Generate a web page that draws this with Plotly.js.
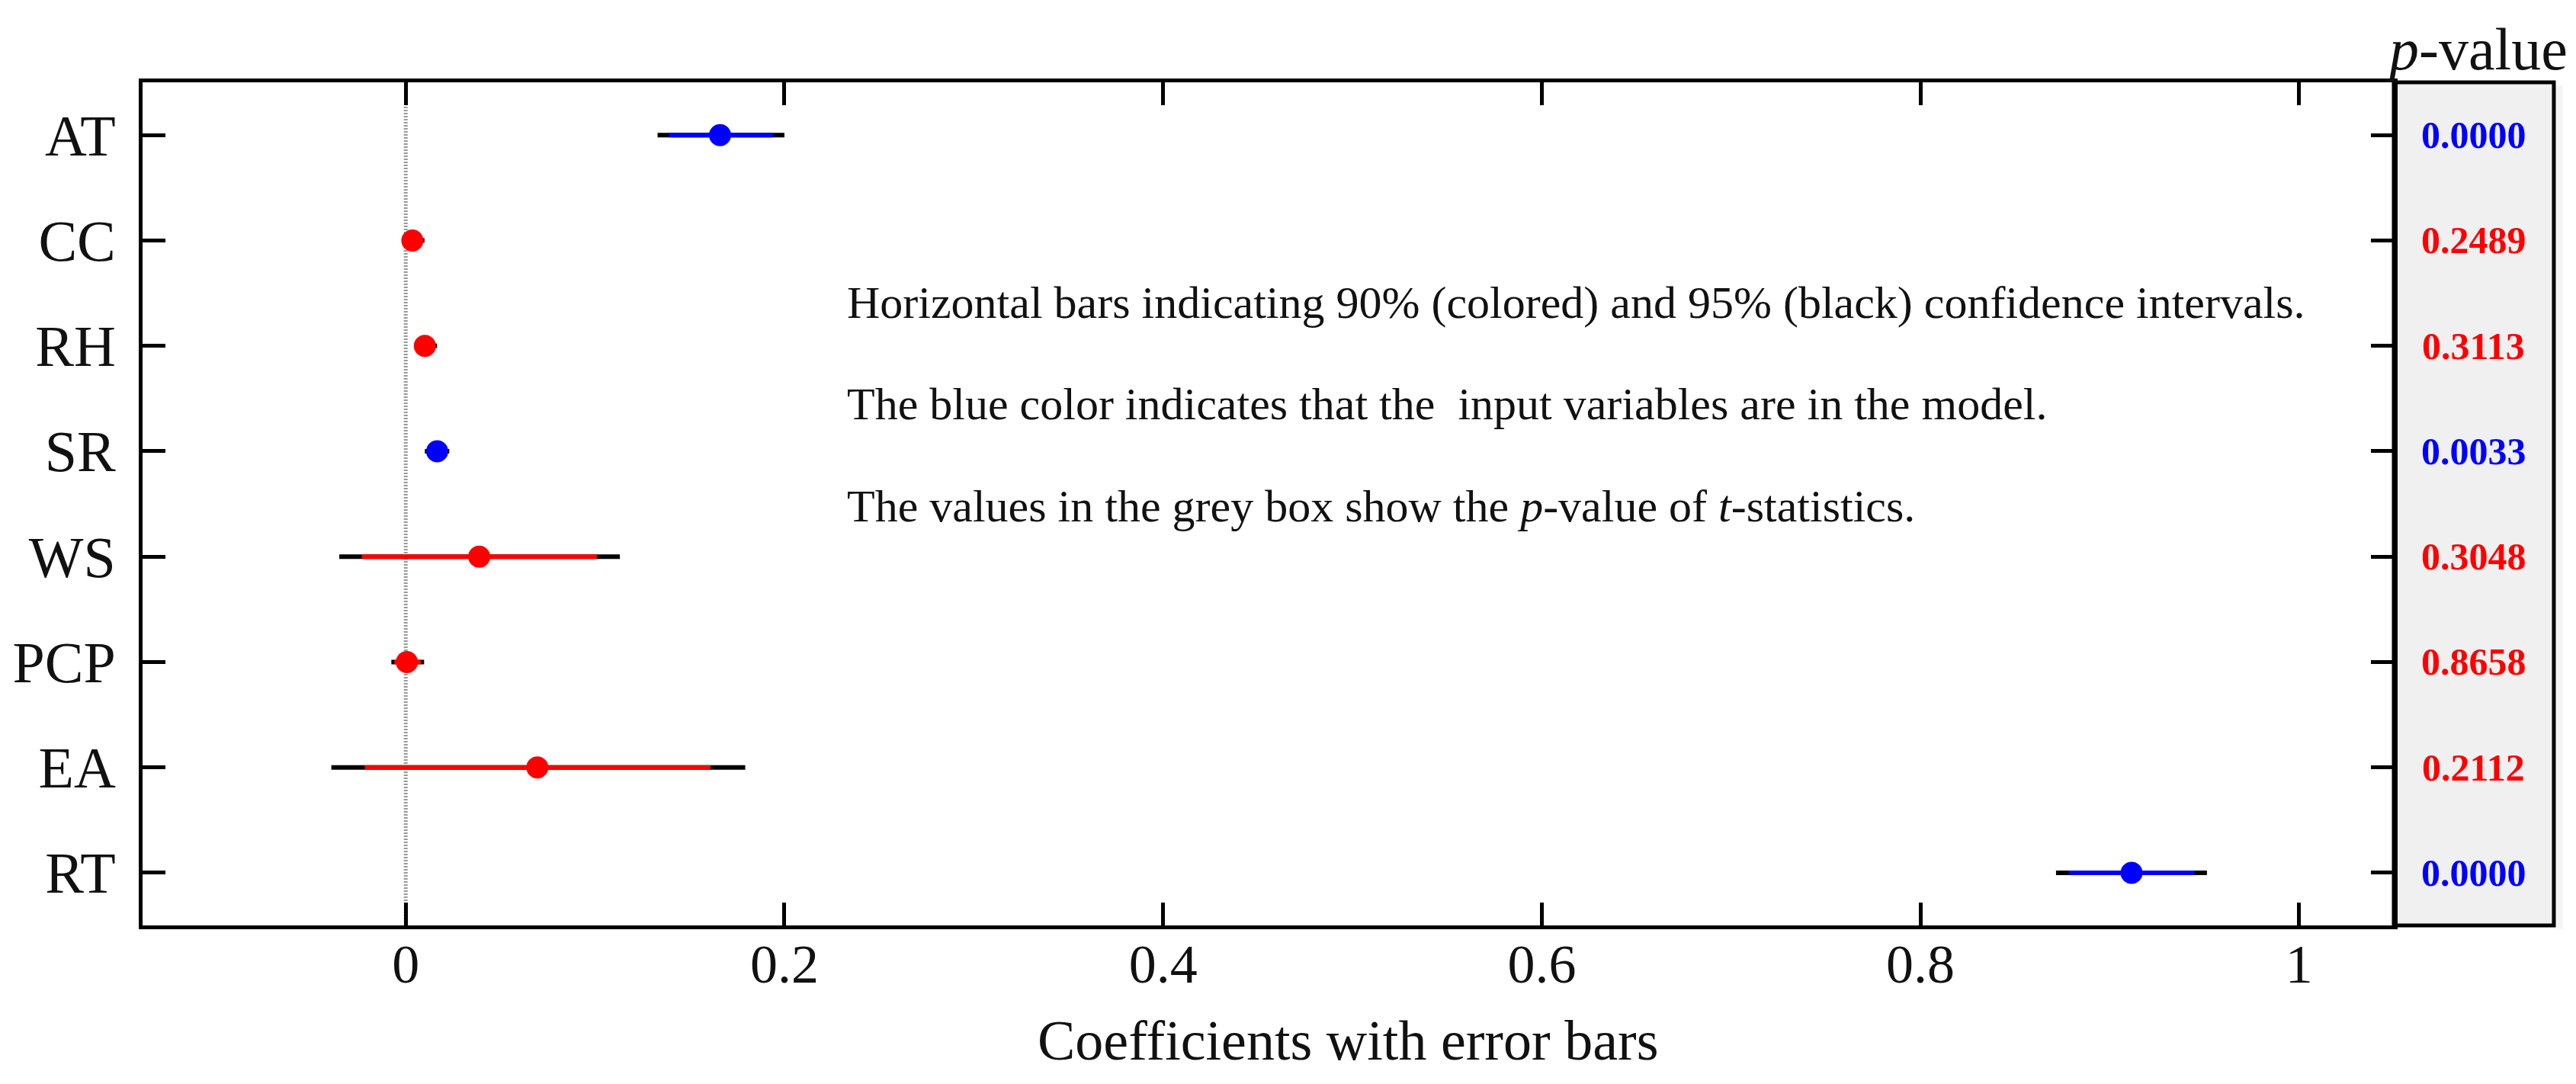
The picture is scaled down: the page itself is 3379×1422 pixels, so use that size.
<!DOCTYPE html>
<html>
<head>
<meta charset="utf-8">
<script src="https://cdn.plot.ly/plotly-3.0.1.min.js"></script>
<style>
  html, body { margin: 0; padding: 0; background: #fff; }
  #chart { width: 3379px; height: 1422px; }
</style>
</head>
<body>
<div id="chart"></div>
<script>
// variables, top to bottom
const variables = ['AT', 'CC', 'RH', 'SR', 'WS', 'PCP', 'EA', 'RT'];
// estimated coefficients
const coef  = [0.166, 0.0035, 0.0101, 0.0166, 0.0388, 0.0006, 0.0695, 0.9115];
// 95% confidence bounds (black)
const lo95  = [0.133, -0.0020, 0.0044, 0.0101, -0.0351, -0.0076, -0.0393, 0.8716];
const hi95  = [0.200, 0.0099, 0.0165, 0.0230, 0.1131, 0.0097, 0.1793, 0.9513];
// 90% confidence bounds (coloured)
const lo90  = [0.139, -0.0010, 0.0055, 0.0110, -0.0232, -0.0060, -0.0216, 0.8784];
const hi90  = [0.194, 0.0080, 0.0150, 0.0220, 0.1010, 0.0080, 0.1610, 0.9447];
// p-value of t-statistics
const pValues = ['0.0000', '0.2489', '0.3113', '0.0033', '0.3048', '0.8658', '0.2112', '0.0000'];
const inModel = [true, false, false, true, false, false, false, true];

const xTicks = [0, 0.2, 0.4, 0.6, 0.8, 1];
const xTickText = ['0', '0.2', '0.4', '0.6', '0.8', '1'];

const BLUE = '#0000ff';
const RED = '#ff0000';
const FONT = "'Liberation Serif', 'Times New Roman', serif";

// pick the rows of one group
function pick(arr, flag) {
  return arr.filter((_, i) => inModel[i] === flag);
}

// 95% bars in black, no marker
const ci95 = {
  type: 'scatter',
  mode: 'markers',
  x: coef,
  y: variables,
  marker: { size: 1, opacity: 0 },
  error_x: {
    type: 'data',
    symmetric: false,
    array: coef.map((c, i) => hi95[i] - c),
    arrayminus: coef.map((c, i) => c - lo95[i]),
    color: '#000',
    thickness: 6,
    width: 0
  },
  hoverinfo: 'skip'
};

function ci90Trace(flag, color) {
  const c = pick(coef, flag);
  const lo = pick(lo90, flag);
  const hi = pick(hi90, flag);
  return {
    type: 'scatter',
    mode: 'markers',
    x: c,
    y: pick(variables, flag),
    marker: { size: 29, color: color },
    error_x: {
      type: 'data',
      symmetric: false,
      array: c.map((v, i) => hi[i] - v),
      arrayminus: c.map((v, i) => v - lo[i]),
      color: color,
      thickness: 6,
      width: 0
    }
  };
}

const plotData = [ci95, ci90Trace(true, BLUE), ci90Trace(false, RED)];

// p-value box sits to the right of the plot area
const boxRight = 1.0711;
const boxMid = (1 + boxRight) / 2;

const annotations = pValues.map((p, i) => ({
  x: boxMid, xref: 'paper',
  y: i, yref: 'y',
  xanchor: 'center', yanchor: 'middle',
  text: '<b>' + p + '</b>',
  showarrow: false,
  font: { family: FONT, size: 50, color: inModel[i] ? BLUE : RED }
}));

annotations.push(
  {
    x: 1.0366, xref: 'paper', y: 1.039, yref: 'paper',
    text: '<i>p</i>-value', showarrow: false,
    xanchor: 'center', yanchor: 'middle',
    font: { family: FONT, size: 78, color: '#111' }
  },
  {
    x: 0.5354, xref: 'paper', y: -0.1365, yref: 'paper',
    text: 'Coefficients with error bars', showarrow: false,
    xanchor: 'center', yanchor: 'middle',
    font: { family: FONT, size: 74, color: '#111' }
  },
  {
    x: 0.2324, xref: 'x', y: 0.7387, yref: 'paper',
    text: 'Horizontal bars indicating 90% (colored) and 95% (black) confidence intervals.',
    showarrow: false, xanchor: 'left', yanchor: 'middle',
    font: { family: FONT, size: 60, color: '#111' }
  },
  {
    x: 0.2324, xref: 'x', y: 0.6184, yref: 'paper',
    text: 'The blue color indicates that the  input variables are in the model.',
    showarrow: false, xanchor: 'left', yanchor: 'middle',
    font: { family: FONT, size: 60, color: '#111' }
  },
  {
    x: 0.2324, xref: 'x', y: 0.4973, yref: 'paper',
    text: 'The values in the grey box show the <i>p</i>-value of <i>t</i>-statistics.',
    showarrow: false, xanchor: 'left', yanchor: 'middle',
    font: { family: FONT, size: 60, color: '#111' }
  }
);

const layout = {
  width: 3379,
  height: 1422,
  margin: { l: 187, r: 239, t: 108, b: 208 },
  paper_bgcolor: '#fff',
  plot_bgcolor: '#fff',
  showlegend: false,
  font: { family: FONT, color: '#111' },
  xaxis: {
    range: [-0.139, 1.05],
    tickvals: xTicks,
    ticktext: xTickText,
    ticks: 'inside',
    ticklen: 30,
    tickwidth: 5,
    tickcolor: '#000',
    ticklabelstandoff: -16,
    tickfont: { family: FONT, size: 72, color: '#111' },
    showline: true,
    linewidth: 5,
    linecolor: '#000',
    mirror: 'ticks',
    showgrid: false,
    zeroline: false
  },
  yaxis: {
    type: 'category',
    categoryorder: 'array',
    categoryarray: variables,
    range: [7.5, -0.5],
    ticks: 'inside',
    ticklen: 30,
    tickwidth: 5,
    tickcolor: '#000',
    ticklabelstandoff: 15,
    tickfont: { family: FONT, size: 76, color: '#111' },
    showline: true,
    linewidth: 5,
    linecolor: '#000',
    mirror: 'ticks',
    showgrid: false,
    zeroline: false
  },
  shapes: [
    // zero reference line
    {
      type: 'line', xref: 'x', yref: 'paper',
      x0: 0, x1: 0, y0: 0, y1: 0.972,
      line: { color: '#999999', width: 5, dash: '2px,2px' },
      layer: 'below'
    },
    // soft shadow of the grey box
    {
      type: 'rect', xref: 'paper', yref: 'paper',
      x0: boxRight, x1: boxRight + 0.004, y0: -0.004, y1: 0.996,
      fillcolor: '#f4f4f4', line: { width: 0 }, layer: 'below'
    },
    // grey p-value box
    {
      type: 'rect', xref: 'paper', yref: 'paper',
      x0: 1, x1: boxRight, y0: 0, y1: 1,
      fillcolor: '#f0f0f0',
      line: { color: '#000', width: 5 },
      layer: 'below'
    }
  ],
  annotations: annotations
};

const config = { displayModeBar: false, staticPlot: true };

Plotly.newPlot('chart', plotData, layout, config);
</script>
</body>
</html>
